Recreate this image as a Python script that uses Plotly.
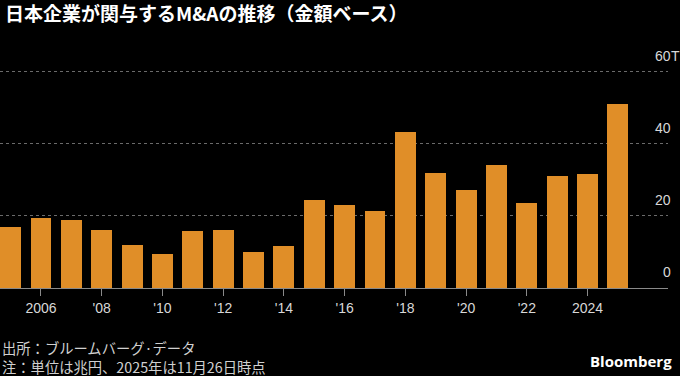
import plotly.graph_objects as go

years = list(range(2005, 2026))
values = [16.8, 19.3, 18.8, 16.2, 12.0, 9.5, 15.8, 16.2, 10.1, 11.6,
          24.4, 23.0, 21.4, 43.3, 31.8, 27.3, 34.0, 23.7, 31.0, 31.7, 50.9]
x_tickvals = [2006, 2008, 2010, 2012, 2014, 2016, 2018, 2020, 2022, 2024]
x_ticktext = ["2006", "'08", "'10", "'12", "'14", "'16", "'18", "'20", "'22", "2024"]
y_tickvals = [0, 20, 40, 60]
y_ticktext = ["0", "20", "40", "60"]
y_unit = "T"

title = "日本企業が関与するM&Aの推移（金額ベース）"
source = "出所：ブルームバーグ·データ"
note = "注：単位は兆円、2025年は11月26日時点"

W, H = 680, 376
left, right, top, bottom = 0, 12, 68, 88
base_y = H - bottom  # pixel row of the x axis

fig = go.Figure(go.Bar(
    x=years, y=values, width=0.69,
    marker=dict(color="#E08E28", line=dict(width=0)),
    hoverinfo="x+y",
))

fig.update_layout(
    width=W, height=H,
    paper_bgcolor="black", plot_bgcolor="black",
    margin=dict(l=left, r=right, t=top, b=bottom, pad=0),
    showlegend=False,
    font=dict(family="Noto Sans CJK JP, sans-serif", color="#d0d0d0"),
    bargap=0,
)
fig.update_xaxes(
    range=[2004.65, 2026.65],
    tickvals=x_tickvals, ticktext=x_ticktext,
    ticks="outside", ticklen=7, tickcolor="#8a8a8a", tickwidth=1,
    showline=True, linecolor="#8a8a8a", linewidth=1,
    showgrid=False, zeroline=False,
    tickfont=dict(size=14, color="#d8d8d8", family="Liberation Sans, sans-serif"),
)
fig.update_yaxes(
    range=[0, 61],
    tickvals=y_tickvals[1:],
    showticklabels=False,
    ticks="",
    showgrid=True, gridcolor="#6a6a6a", griddash="dot", gridwidth=1,
    zeroline=False, showline=False,
)

lab_font = dict(size=14, color="#d8d8d8", family="Liberation Sans, sans-serif")
for v, t in zip(y_tickvals, y_ticktext):
    fig.add_annotation(
        x=1, xref="paper", y=v, yref="y", text=t,
        showarrow=False, xanchor="right", yanchor="bottom",
        xshift=5, yshift=6, font=lab_font,
    )
fig.add_annotation(
    x=1, xref="paper", y=y_tickvals[-1], yref="y", text=y_unit,
    showarrow=False, xanchor="left", yanchor="bottom",
    xshift=1, yshift=6, font=lab_font,
)

fig.add_annotation(
    x=0, xref="paper", y=1, yref="paper", text="<b>" + title + "</b>",
    showarrow=False, xanchor="left", yanchor="middle",
    xshift=3, yshift=top - 12,
    font=dict(size=19, color="white", family="Noto Sans CJK JP, sans-serif"),
)
fig.add_annotation(
    x=0, xref="paper", y=0, yref="paper", text=source + "<br>" + note,
    showarrow=False, xanchor="left", yanchor="middle", align="left",
    xshift=0, yshift=-(357 - base_y),
    font=dict(size=14.3, color="#d0d0d0", family="Noto Sans CJK JP, sans-serif"),
)
fig.add_annotation(
    x=1, xref="paper", y=0, yref="paper", text="<b>Bloomberg</b>",
    showarrow=False, xanchor="right", yanchor="middle",
    xshift=6, yshift=-(361 - base_y),
    font=dict(size=15, color="white", family="Open Sans, sans-serif"),
)

fig.write_html(
    "out.html",
    config={"displayModeBar": False},
    post_script="document.body.style.margin='0';document.body.style.overflow='hidden';document.body.style.background='black';",
)
